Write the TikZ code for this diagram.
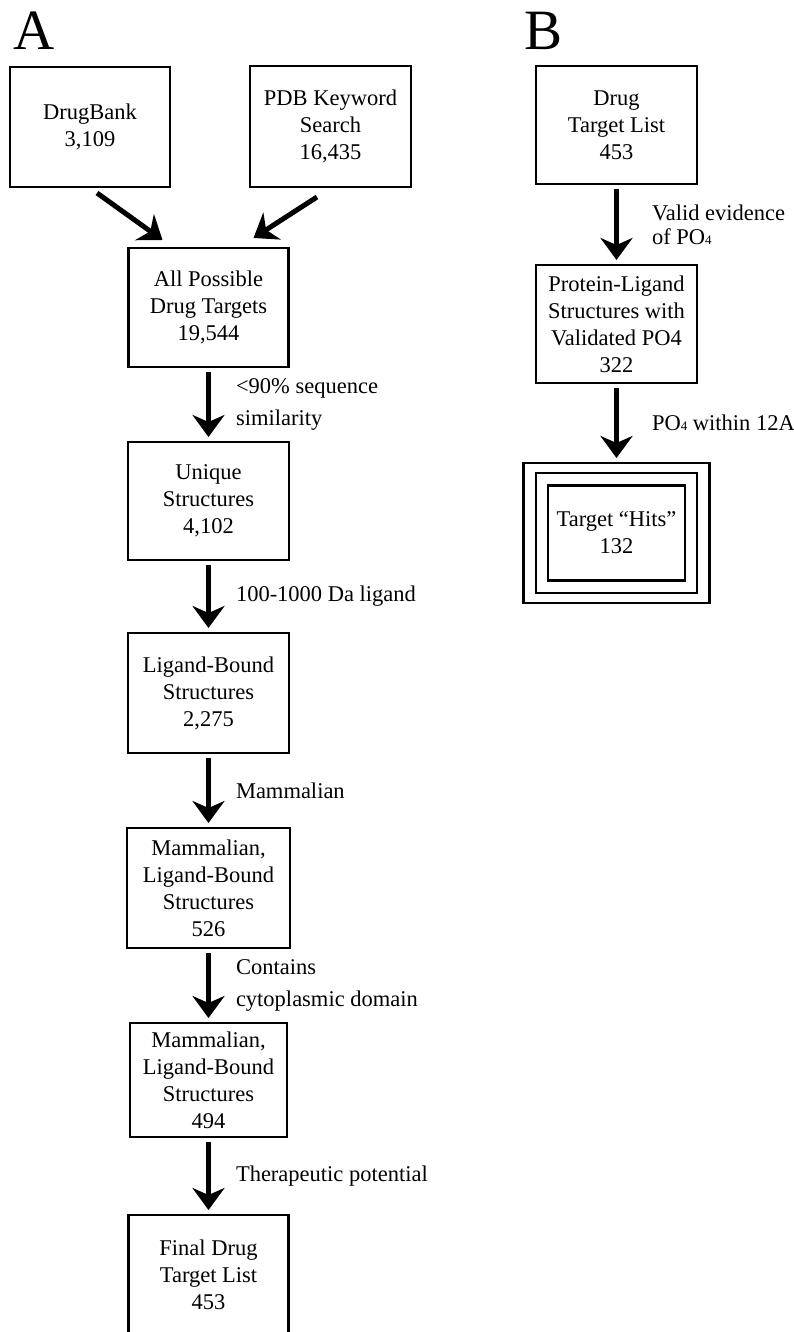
\documentclass[tikz,border=0pt]{standalone}
\usepackage{fontspec}
\setmainfont{Liberation Serif}
\usetikzlibrary{positioning,arrows.meta}

\begin{document}
\begin{tikzpicture}[x=1pt,y=-1pt,-{Stealth[length=22pt,width=32pt,inset=7pt]},line width=5pt,shorten >=5pt,shorten <=5pt,
    box node/.style={rectangle,draw,line width=2.5pt,outer sep=0pt,inner sep=2pt,minimum width=160pt,minimum height=120pt,align=center,font=\fontsize{22.5}{27}\selectfont},
    note node/.style={inner sep=0pt,align=left,font=\fontsize{22.5}{32}\selectfont},
    panel node/.style={inner sep=0pt,anchor=base west,font=\fontsize{57}{57}\selectfont}]
            \clip (0,0) rectangle (794,1332);

            \node[panel node] (A) at (11,50) {A};
            \node[panel node] (B) at (522,50) {B};

            % panel A
            \node[box node] (1) at (90,127) {DrugBank\\3,109};
            \node[box node, minimum width=161pt, minimum height=121pt] (2) at (330.5,126.5) {PDB Keyword\\Search\\16,435};
            \node[box node, minimum height=119pt] (3) at (208.5,307.5) {All Possible\\Drug Targets\\19,544};
            \node[box node, minimum width=161pt, minimum height=118pt] (4) [below=75pt of 3] {Unique\\Structures\\4,102};
            \node[box node, minimum width=161pt] (5) [below=73pt of 4] {Ligand-Bound\\Structures\\2,275};
            \node[box node, minimum width=163pt] (6) [below=75pt of 5] {Mammalian,\\Ligand-Bound\\Structures\\526};
            \node[box node, minimum width=157pt, minimum height=114pt] (7) [below=75pt of 6] {Mammalian,\\Ligand-Bound\\Structures\\494};
            \node[box node] (8) [below=78pt of 7] {Final Drug\\Target List\\453};

            % panel B
            \node[box node, minimum width=161pt, minimum height=118pt] (9) at (616.5,125) {Drug\\Target List\\453};
            \node[box node, minimum width=161pt, minimum height=118pt] (10) [below=81pt of 9] {Protein-Ligand\\Structures with\\Validated PO4\\322};
            \node[box node, minimum width=186pt, minimum height=140pt] (11) [below=80pt of 10] {};
            \node[box node, minimum width=161pt, minimum height=120pt] (12) at (11.center) {};
            \node[box node, minimum width=137pt, minimum height=95pt] (13) at (11.center) {Target “Hits”\\132};

            \path[shorten >=0pt,shorten <=0pt]
                ([xshift=7pt,yshift=-6pt]1.south) edge ([xshift=34pt,yshift=8pt]3.north west)
                ([xshift=-13.5pt,yshift=-10pt]2.south) edge ([xshift=-35pt,yshift=10pt]3.north east)
                ;

            \path
                (3) edge node[note node, right=25pt] {<90\% sequence\\similarity} (4)
                (4) edge node[note node, right=25pt] {100-1000 Da ligand} (5)
                (5) edge node[note node, right=25pt] {Mammalian} (6)
                (6) edge node[note node, right=25pt] {Contains\\cytoplasmic domain} (7)
                (7) edge node[note node, right=25pt] {Therapeutic potential} (8)
                (9) edge node[note node, right=33pt, font=\fontsize{22.5}{24}\selectfont] {Valid evidence\\of PO{\fontsize{13}{13}\selectfont 4}} (10)
                (10) edge node[note node, right=33pt] {PO{\fontsize{13}{13}\selectfont 4} within 12A} (11)
                ;
        \end{tikzpicture}
\end{document}
